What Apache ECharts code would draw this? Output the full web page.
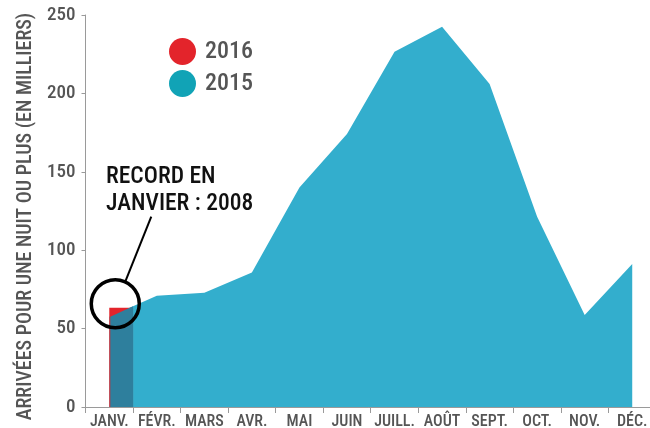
<!DOCTYPE html>
<html>
<head>
<meta charset="utf-8">
<script src="https://cdn.jsdelivr.net/npm/echarts@6/dist/echarts.min.js"></script>
<style>
html,body{margin:0;padding:0;background:#fff;}
#c{width:650px;height:428px;}
</style>
</head>
<body>
<div id="c"></div>
<script>
var months = ['JANV.', 'FÉVR.', 'MARS', 'AVR.', 'MAI', 'JUIN', 'JUILL.', 'AOÛT', 'SEPT.', 'OCT.', 'NOV.', 'DÉC.'];
var values2015 = [57.6, 71.0, 72.9, 85.7, 140, 174.1, 226.6, 242.5, 206, 121.4, 58.7, 91.2];
var values2016 = [63.3];
var yTicks = [0, 50, 100, 150, 200, 250];
var yAxisName = 'ARRIVÉES POUR UNE NUIT OU PLUS (EN MILLIERS)';
var annotationText = 'RECORD EN\nJANVIER : 2008';

var FONT = '"Roboto Condensed", sans-serif';
var AREA = '#33aecd';
var DARK = '#2e7f9d';
var RED = '#e3242b';
var LEG_TEAL = '#11a3b6';
var GRAY = '#555555';
var AXIS = '#9a9a9a';
var W = 500;

var chart = echarts.init(document.getElementById('c'), null, {renderer: 'canvas'});

chart.setOption({
  animation: false,
  backgroundColor: '#ffffff',
  grid: {left: 85.5, right: -6, top: 15, bottom: 21, containLabel: false, outerBoundsMode: 'none'},
  legend: {
    orient: 'vertical',
    left: 164,
    top: 33,
    itemWidth: 27,
    itemHeight: 27,
    itemGap: 5,
    icon: 'circle',
    textStyle: {fontFamily: FONT, fontSize: 24, fontWeight: W, color: GRAY, padding: [0, 0, 0, 4]},
    data: [
      {name: '2016', itemStyle: {color: RED}},
      {name: '2015', itemStyle: {color: LEG_TEAL}}
    ]
  },
  xAxis: {
    type: 'category',
    data: months,
    boundaryGap: true,
    axisLine: {show: true, lineStyle: {color: AXIS, width: 1}},
    axisTick: {show: true, length: 6, lineStyle: {color: AXIS}},
    axisLabel: {fontFamily: FONT, fontSize: 16, fontWeight: W, color: GRAY, margin: 7, interval: 0},
    splitLine: {show: false}
  },
  yAxis: {
    type: 'value',
    min: yTicks[0],
    max: yTicks[yTicks.length - 1],
    interval: 50,
    name: yAxisName,
    nameLocation: 'middle',
    nameGap: 50,
    nameTextStyle: {fontFamily: FONT, fontSize: 20, fontWeight: W, color: GRAY, padding: [0, 11, 0, 0]},
    axisLine: {show: true, lineStyle: {color: AXIS, width: 1}},
    axisTick: {show: true, length: 4, lineStyle: {color: AXIS}},
    axisLabel: {fontFamily: FONT, fontSize: 19, fontWeight: W, color: GRAY, margin: 10},
    splitLine: {show: false}
  },
  series: [
    {
      name: '2015',
      type: 'line',
      data: values2015,
      symbol: 'none',
      smooth: false,
      lineStyle: {width: 0, color: AREA},
      itemStyle: {color: AREA},
      areaStyle: {color: AREA, opacity: 1},
      z: 2
    },
    {
      name: '2016',
      type: 'custom',
      itemStyle: {color: RED},
      data: values2016.map(function (v, i) { return [i, v]; }),
      z: 3,
      renderItem: function (params, api) {
        var idx = api.value(0);
        var top = api.coord([idx, api.value(1)]);
        var base = api.coord([idx, 0]);
        var bw = api.size([1, 0])[0];
        var x0 = top[0];
        var x1 = top[0] + bw / 2;
        var pA = api.coord([idx, values2015[idx]]);
        var pB = api.coord([idx + 1, values2015[idx + 1]]);
        var t = (x1 - pA[0]) / (pB[0] - pA[0]);
        var yMid = pA[1] + (pB[1] - pA[1]) * t;
        var cx = x0 + 6, cy = top[1] - 4, r = 24;
        return {
          type: 'group',
          children: [
            {type: 'rect', shape: {x: x0, y: top[1], width: x1 - x0, height: base[1] - top[1]}, style: {fill: RED}},
            {type: 'polygon', shape: {points: [[x0 + 1, pA[1]], [x1, yMid], [x1, base[1]], [x0 + 1, base[1]]]}, style: {fill: DARK}},
            {type: 'circle', shape: {cx: cx, cy: cy, r: r}, style: {fill: null, stroke: '#000', lineWidth: 3.5}},
            {type: 'line', shape: {x1: cx + 10, y1: cy - 22, x2: cx + 36, y2: cy - 87}, style: {stroke: '#000', lineWidth: 2}}
          ]
        };
      }
    }
  ],
  graphic: [
    {
      type: 'text',
      left: 106,
      top: 164,
      style: {
        text: annotationText,
        font: W + ' 23.5px ' + FONT,
        lineHeight: 27,
        fill: '#111111'
      }
    }
  ]
});
</script>
</body>
</html>
